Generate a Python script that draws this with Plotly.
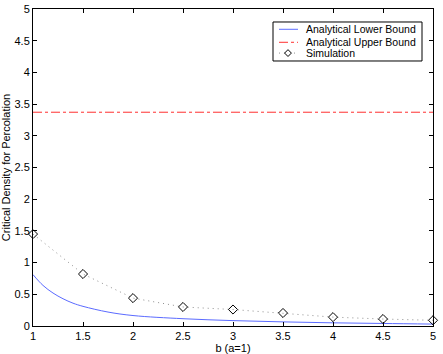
import plotly.graph_objects as go

# values
b_lower = [1, 1.1, 1.2, 1.3, 1.4, 1.5, 1.75, 2, 2.5, 3, 3.5, 4, 4.5, 5]
lower_bound = [0.81, 0.64, 0.52, 0.43, 0.36, 0.31, 0.22, 0.165, 0.115, 0.085, 0.065, 0.05, 0.04, 0.03]

b_upper = [1, 5]
upper_bound = [3.372, 3.372]

b_sim = [1, 1.5, 2, 2.5, 3, 3.5, 4, 4.5, 5]
simulation = [1.45, 0.82, 0.44, 0.30, 0.26, 0.205, 0.14, 0.11, 0.09]

x_ticks = [1, 1.5, 2, 2.5, 3, 3.5, 4, 4.5, 5]
y_ticks = [0, 0.5, 1, 1.5, 2, 2.5, 3, 3.5, 4, 4.5, 5]

series_names = ['Analytical Lower Bound', 'Analytical Upper Bound', 'Simulation']

BLUE = '#5b6bff'
RED = '#ff3030'
GRAY = '#909090'
FONT = 'Liberation Sans, Arial, sans-serif'

fig = go.Figure()
fig.add_trace(go.Scatter(
    x=b_lower, y=lower_bound, mode='lines', name=series_names[0],
    line=dict(color=BLUE, width=1, shape='spline'), cliponaxis=False
))
fig.add_trace(go.Scatter(
    x=b_upper, y=upper_bound, mode='lines', name=series_names[1],
    line=dict(color=RED, width=1, dash='dashdot')
))
fig.add_trace(go.Scatter(
    x=b_sim, y=simulation, mode='lines+markers', name=series_names[2],
    line=dict(color=GRAY, width=1, dash='1px,4px'),
    marker=dict(symbol='diamond-open', size=7, color='black', line=dict(width=1)),
    cliponaxis=False
))

# compact boxed legend, drawn in paper coordinates (matlab style)
fig.add_shape(type='rect', xref='paper', yref='paper', x0=0.6, x1=0.9725, y0=0.836, y1=0.959,
              line=dict(color='black', width=1), fillcolor='white', layer='above')
leg_y = [0.936, 0.895, 0.861]
fig.add_shape(type='line', xref='paper', yref='paper', x0=0.615, x1=0.6625, y0=leg_y[0], y1=leg_y[0],
              line=dict(color=BLUE, width=1), layer='above')
fig.add_shape(type='line', xref='paper', yref='paper', x0=0.615, x1=0.6625, y0=leg_y[1], y1=leg_y[1],
              line=dict(color=RED, width=1, dash='dashdot'), layer='above')
fig.add_shape(type='line', xref='paper', yref='paper', x0=0.615, x1=0.6625, y0=leg_y[2], y1=leg_y[2],
              line=dict(color=GRAY, width=1, dash='1px,4px'), layer='above')
dx, dy, cx = 0.0085, 0.0108, 0.6375
fig.add_shape(type='path', xref='paper', yref='paper',
              path=f'M {cx-dx} {leg_y[2]} L {cx} {leg_y[2]+dy} L {cx+dx} {leg_y[2]} L {cx} {leg_y[2]-dy} Z',
              line=dict(color='black', width=1), fillcolor='white', layer='above')
for name, yy in zip(series_names, leg_y):
    fig.add_annotation(text=name, xref='paper', yref='paper', x=0.6775, y=yy,
                       xanchor='left', yanchor='middle', showarrow=False,
                       font=dict(family=FONT, size=10.5, color='black'))

axis_common = dict(
    showgrid=False, zeroline=False, showline=True, mirror='ticks',
    linecolor='black', linewidth=1, ticks='inside', ticklen=4,
    tickcolor='black', tickfont=dict(size=11, color='black'), automargin=False
)

fig.update_layout(
    width=443, height=354,
    paper_bgcolor='white', plot_bgcolor='white',
    font=dict(family=FONT, size=11, color='black'),
    margin=dict(l=33, r=10, t=9, b=28),
    showlegend=False,
    xaxis=dict(range=[1, 5], tickvals=x_ticks, ticktext=[f'{v:g}' for v in x_ticks],
               title=dict(text='b (a=1)', font=dict(size=11), standoff=1), **axis_common),
    yaxis=dict(range=[0, 5], tickvals=y_ticks, ticktext=[f'{v:g}' for v in y_ticks],
               title=dict(text='Critical Density for Percolation', font=dict(size=11), standoff=1),
               **axis_common),
)

fig.write_html("out.html", config={'displayModeBar': False},
               post_script="document.body.style.margin='0';")
